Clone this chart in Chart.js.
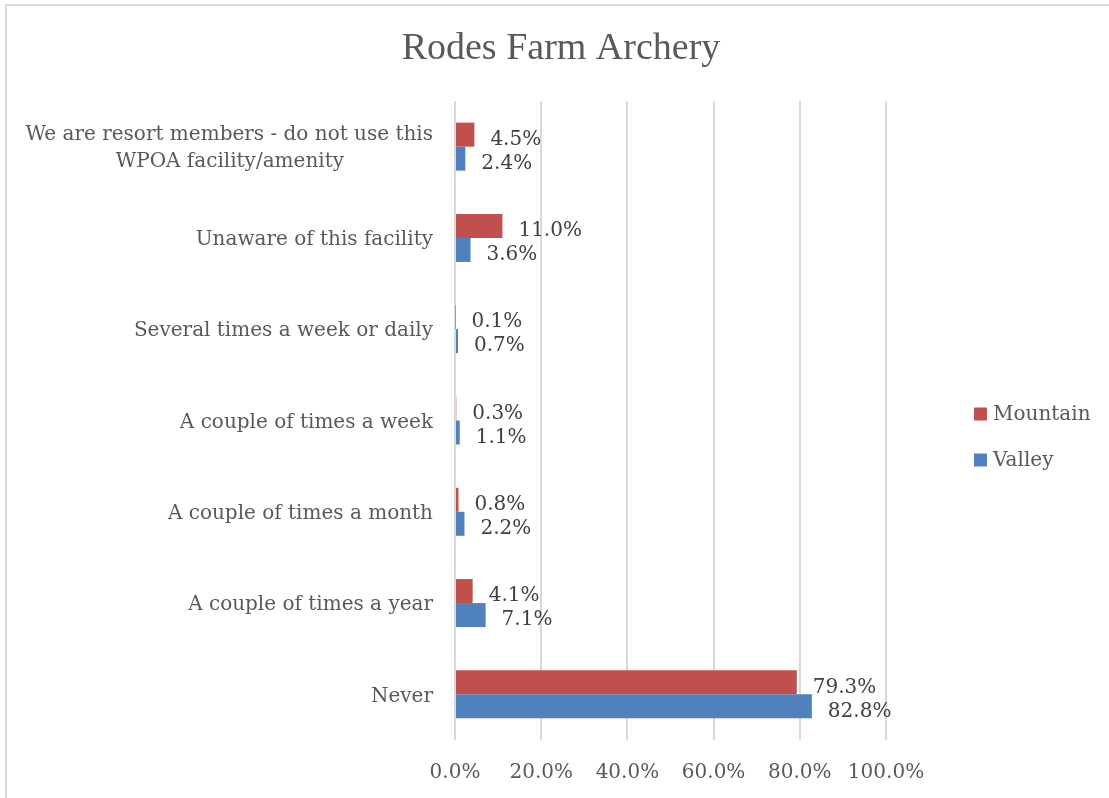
<!DOCTYPE html>
<html>
<head>
<meta charset="utf-8">
<title>Rodes Farm Archery</title>
<script src="https://cdn.jsdelivr.net/npm/chart.js@4.4.1/dist/chart.umd.min.js"></script>
<style>
  html, body { margin: 0; padding: 0; background: #fff; }
  #wrap { width: 1109px; height: 798px; }
</style>
</head>
<body>
<div id="wrap"><canvas id="chart" width="1109" height="798"></canvas></div>
<script>
const chartTitle = 'Rodes Farm Archery';
// second line padded with nbsp so it sits centred under the first
const categories = [
  ['We are resort members - do not use this',
   'WPOA facility/amenity' + '\u00a0'.repeat(14)],
  'Unaware of this facility',
  'Several times a week or daily',
  'A couple of times a week',
  'A couple of times a month',
  'A couple of times a year',
  'Never'
];
const mountain = [4.5, 11.0, 0.1, 0.3, 0.8, 4.1, 79.3];
const valley = [2.4, 3.6, 0.7, 1.1, 2.2, 7.1, 82.8];
const seriesNames = ['Mountain', 'Valley'];
const seriesColors = ['#C0504D', '#4F81BD'];
const xTicks = [0, 20, 40, 60, 80, 100];

const FONT = 'DejaVu Serif';
const TEXT = '#595959';

// white background, frame lines and the title
const frame = {
  id: 'frame',
  beforeDraw(chart) {
    const ctx = chart.ctx;
    ctx.save();
    ctx.fillStyle = '#fff';
    ctx.fillRect(0, 0, chart.width, chart.height);
    ctx.strokeStyle = '#d9d9d9';
    ctx.lineWidth = 2;
    ctx.beginPath();
    ctx.moveTo(6, chart.height);
    ctx.lineTo(6, 5);
    ctx.lineTo(chart.width, 5);
    ctx.stroke();
    ctx.font = '38px "Liberation Serif"';
    ctx.fillStyle = TEXT;
    ctx.textAlign = 'center';
    ctx.textBaseline = 'middle';
    ctx.fillText(chartTitle, 561, 49);
    ctx.restore();
  }
};

// value labels just past the end of every bar
const barLabels = {
  id: 'barLabels',
  afterDatasetsDraw(chart) {
    const ctx = chart.ctx;
    ctx.save();
    ctx.font = '20px "' + FONT + '"';
    ctx.fillStyle = '#404040';
    ctx.textAlign = 'left';
    ctx.textBaseline = 'middle';
    chart.data.datasets.forEach((ds, i) => {
      chart.getDatasetMeta(i).data.forEach((bar, j) => {
        ctx.fillText(ds.data[j].toFixed(1) + '%', bar.x + 16, bar.y + 5);
      });
    });
    ctx.restore();
  }
};

// legend on the right, stacked
const sideLegend = {
  id: 'sideLegend',
  afterDraw(chart) {
    const ctx = chart.ctx;
    ctx.save();
    ctx.font = '20px "' + FONT + '"';
    ctx.textBaseline = 'middle';
    ctx.textAlign = 'left';
    chart.data.datasets.forEach((ds, i) => {
      const y = 414 + i * 46;
      ctx.fillStyle = ds.backgroundColor;
      ctx.fillRect(974, y - 6.5, 13, 13);
      ctx.fillStyle = TEXT;
      ctx.fillText(ds.label, 993, y + 1);
    });
    ctx.restore();
  }
};

new Chart(document.getElementById('chart'), {
  type: 'bar',
  data: {
    labels: categories,
    datasets: [
      { label: seriesNames[0], data: mountain, backgroundColor: seriesColors[0] },
      { label: seriesNames[1], data: valley, backgroundColor: seriesColors[1] }
    ]
  },
  options: {
    indexAxis: 'y',
    responsive: false,
    animation: false,
    categoryPercentage: 0.526,
    barPercentage: 1,
    layout: { padding: { left: 0, right: 223, top: 101, bottom: 0 } },
    plugins: {
      legend: { display: false },
      tooltip: { enabled: false },
      title: { display: false }
    },
    scales: {
      x: {
        min: 0,
        max: 100,
        afterBuildTicks: scale => { scale.ticks = xTicks.map(v => ({ value: v })); },
        afterFit: scale => { scale.height = 58; },
        grid: { color: '#d9d9d9', lineWidth: 2, drawTicks: false },
        border: { display: false },
        ticks: {
          padding: 21,
          color: TEXT,
          font: { family: FONT, size: 20 },
          callback: v => v.toFixed(1) + '%'
        }
      },
      y: {
        afterFit: scale => { scale.width = 455; },
        grid: { display: false, drawTicks: false },
        border: { display: false },
        ticks: {
          padding: 22,
          labelOffset: 2,
          color: TEXT,
          font: { family: FONT, size: 20, lineHeight: 1.35 }
        }
      }
    }
  },
  plugins: [frame, barLabels, sideLegend]
});
</script>
</body>
</html>
